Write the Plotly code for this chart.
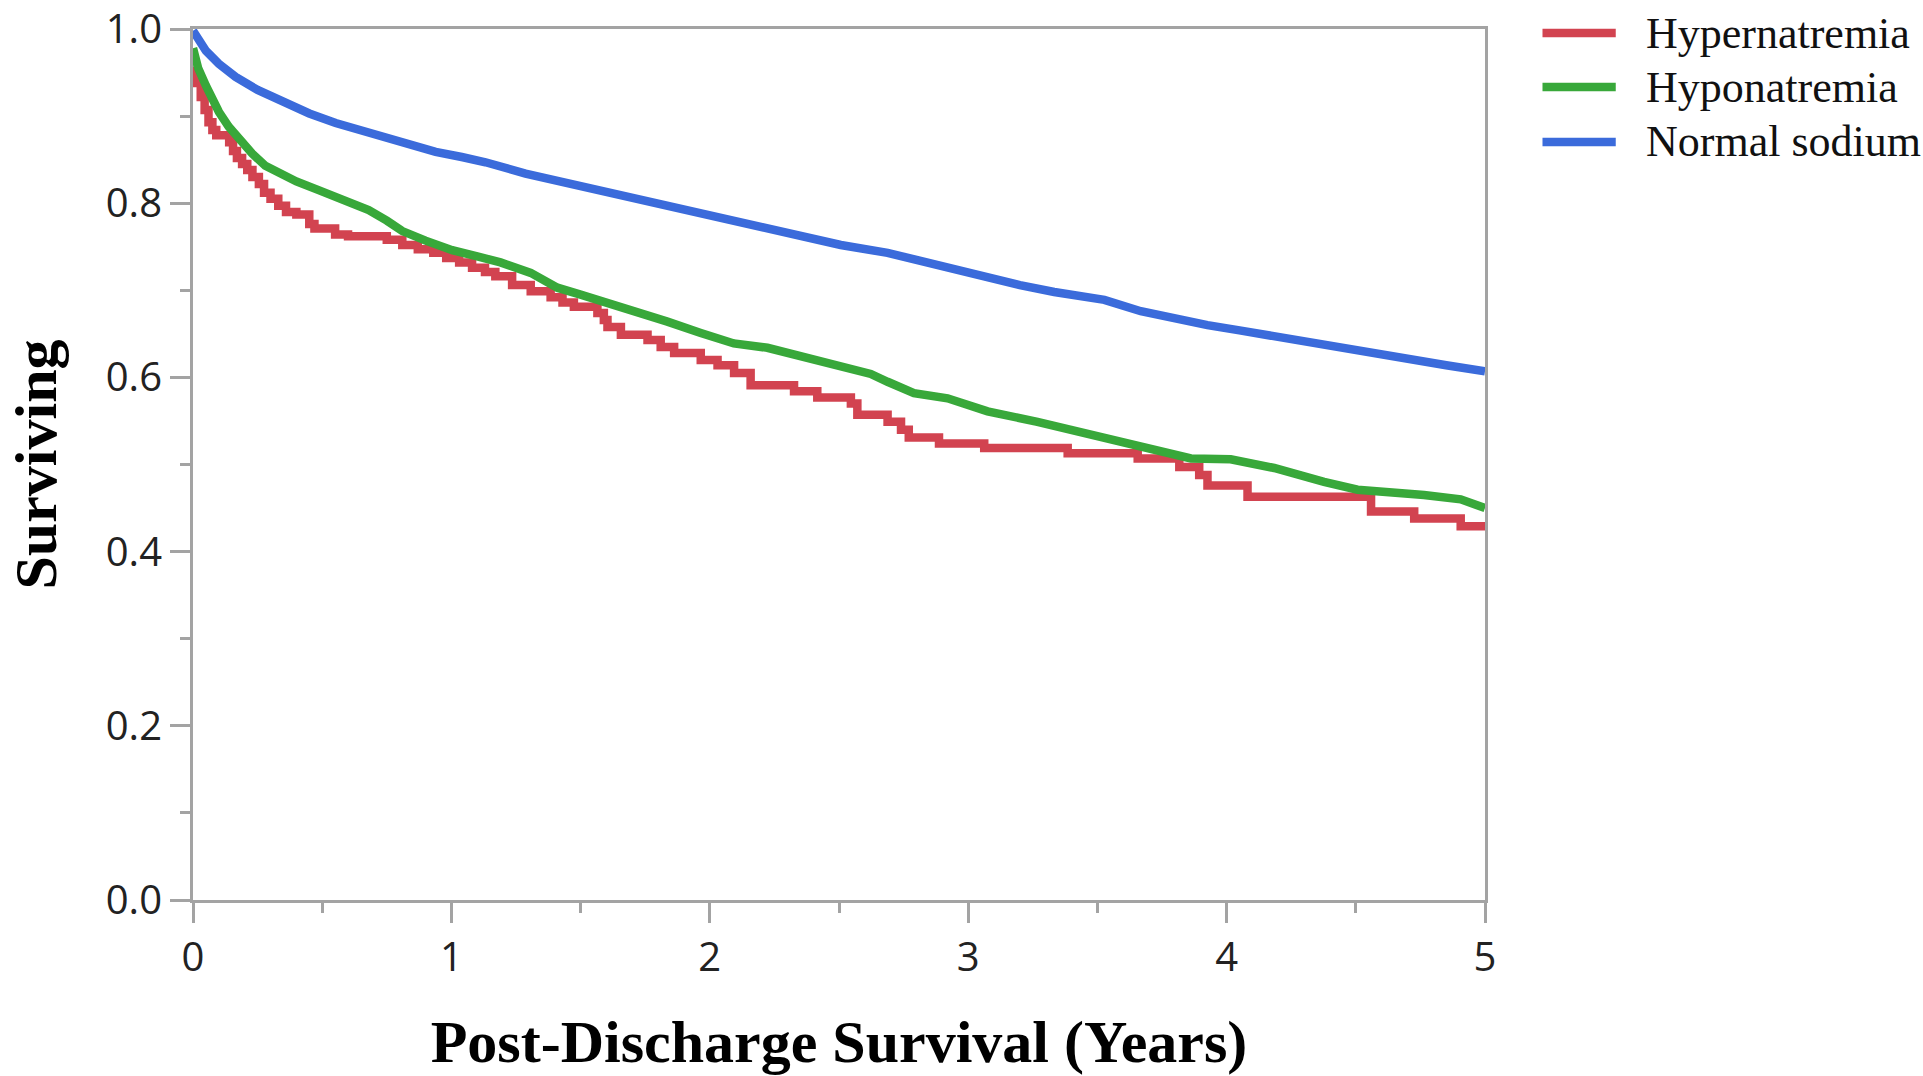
import plotly.graph_objects as go

# ---- data ----
series_names = ["Hypernatremia", "Hyponatremia", "Normal sodium"]
series_colors = ["#d24350", "#38a83a", "#3b6bdb"]

red_t = [0.000, 0.015, 0.030, 0.045, 0.060, 0.075, 0.090, 0.140, 0.155, 0.170,
         0.190, 0.210, 0.230, 0.255, 0.275, 0.300, 0.330, 0.360, 0.400, 0.450,
         0.470, 0.550, 0.600, 0.750, 0.810, 0.870, 0.930, 0.980, 1.030, 1.080,
         1.130, 1.170, 1.235, 1.307, 1.384, 1.430, 1.474, 1.565, 1.590, 1.604,
         1.656, 1.759, 1.810, 1.862, 1.965, 2.030, 2.094, 2.158, 2.326, 2.416,
         2.546, 2.571, 2.688, 2.740, 2.770, 2.887, 3.062, 3.385, 3.656, 3.817,
         3.894, 3.926, 4.081, 4.559, 4.726, 4.906, 5.000]
red_s = [0.952, 0.938, 0.922, 0.907, 0.893, 0.884, 0.878, 0.870, 0.860, 0.852,
         0.845, 0.838, 0.830, 0.822, 0.812, 0.805, 0.797, 0.790, 0.787, 0.776,
         0.771, 0.764, 0.762, 0.758, 0.752, 0.747, 0.743, 0.737, 0.732, 0.726,
         0.721, 0.716, 0.706, 0.699, 0.692, 0.686, 0.681, 0.674, 0.666, 0.658,
         0.649, 0.643, 0.635, 0.628, 0.620, 0.614, 0.605, 0.591, 0.584, 0.577,
         0.570, 0.557, 0.549, 0.540, 0.531, 0.524, 0.519, 0.513, 0.507, 0.497,
         0.488, 0.476, 0.463, 0.446, 0.438, 0.429, 0.429]

green_t = [0, 0.02, 0.05, 0.074, 0.10, 0.138, 0.18, 0.229, 0.28, 0.332,
           0.40, 0.486, 0.58, 0.68, 0.75, 0.81, 0.90, 1.003, 1.10, 1.19,
           1.307, 1.36, 1.41, 1.50, 1.616, 1.70, 1.836, 1.965, 2.093, 2.223,
           2.352, 2.429, 2.507, 2.623, 2.688, 2.79, 2.92, 3.075, 3.268, 3.46,
           3.66, 3.746, 3.862, 4.016, 4.184, 4.377, 4.507, 4.764, 4.906, 5.0]
green_s = [0.978, 0.955, 0.935, 0.918, 0.905, 0.888, 0.872, 0.857, 0.843, 0.834,
           0.825, 0.815, 0.805, 0.792, 0.780, 0.768, 0.757, 0.746, 0.739, 0.732,
           0.720, 0.711, 0.703, 0.695, 0.685, 0.676, 0.664, 0.651, 0.639, 0.634,
           0.624, 0.618, 0.611, 0.604, 0.595, 0.582, 0.576, 0.561, 0.549, 0.536,
           0.523, 0.517, 0.507, 0.506, 0.496, 0.480, 0.471, 0.465, 0.460, 0.450]

blue_t = [0, 0.05, 0.1, 0.165, 0.25, 0.358, 0.45, 0.552, 0.65, 0.745,
          0.84, 0.939, 1.04, 1.132, 1.287, 1.449, 1.55, 1.706, 1.85, 1.965,
          2.1, 2.223, 2.35, 2.507, 2.688, 2.881, 3.075, 3.2, 3.333, 3.527,
          3.668, 3.8, 3.926, 4.05, 4.184, 4.3, 4.442, 4.57, 4.70, 4.85, 5.0]
blue_s = [0.998, 0.975, 0.960, 0.945, 0.930, 0.915, 0.903, 0.892, 0.883, 0.875,
          0.866, 0.859, 0.853, 0.847, 0.834, 0.823, 0.817, 0.807, 0.797, 0.788,
          0.780, 0.771, 0.763, 0.752, 0.743, 0.729, 0.714, 0.706, 0.698, 0.689,
          0.676, 0.667, 0.660, 0.654, 0.647, 0.641, 0.635, 0.629, 0.622, 0.614,
          0.607]

x_tick_vals = [0, 1, 2, 3, 4, 5]
x_tick_text = ["0", "1", "2", "3", "4", "5"]
y_tick_vals = [0.0, 0.2, 0.4, 0.6, 0.8, 1.0]
y_tick_text = ["0.0", "0.2", "0.4", "0.6", "0.8", "1.0"]

x_title = "Post-Discharge Survival (Years)"
y_title = "Surviving"

AXIS_GRAY = "#a3a3a3"
LW = 8.5

fig = go.Figure()
fig.add_trace(go.Scatter(x=red_t, y=red_s, mode="lines", name=series_names[0],
                         line=dict(color=series_colors[0], width=LW, shape="hv"),
                         showlegend=False))
fig.add_trace(go.Scatter(x=green_t, y=green_s, mode="lines", name=series_names[1],
                         line=dict(color=series_colors[1], width=LW),
                         showlegend=False))
fig.add_trace(go.Scatter(x=blue_t, y=blue_s, mode="lines", name=series_names[2],
                         line=dict(color=series_colors[2], width=LW),
                         showlegend=False))

# manual legend (long line samples like the reference)
leg_y = [0.9954, 0.9334, 0.8703]
for name, col, yy in zip(series_names, series_colors, leg_y):
    fig.add_shape(type="line", xref="x domain", yref="y domain",
                  x0=1.0445, x1=1.1012, y0=yy, y1=yy,
                  line=dict(color=col, width=8.5))
    fig.add_annotation(xref="x domain", yref="y domain", x=1.1230, y=yy,
                       text=name, showarrow=False, xanchor="left", yanchor="middle",
                       font=dict(family="Liberation Serif", size=44, color="#111111"))

tickfont = dict(family="Open Sans", size=40, color="#222222")
title_font = dict(family="Liberation Serif", size=60, color="#000000")

fig.update_xaxes(range=[0, 5], tickvals=x_tick_vals, ticktext=x_tick_text,
                 showgrid=False, zeroline=False, showline=True, mirror=True,
                 linecolor=AXIS_GRAY, linewidth=3, automargin=False,
                 ticks="outside", ticklen=20, tickwidth=3, tickcolor=AXIS_GRAY,
                 minor=dict(dtick=0.5, tick0=0, ticks="outside", ticklen=10,
                            tickwidth=3, tickcolor=AXIS_GRAY, showgrid=False),
                 tickfont=tickfont,
                 title=dict(text="<b>" + x_title + "</b>", font=title_font, standoff=38))
fig.update_yaxes(range=[0, 1], tickvals=y_tick_vals, ticktext=y_tick_text,
                 showgrid=False, zeroline=False, showline=True, mirror=True,
                 linecolor=AXIS_GRAY, linewidth=3, automargin=False,
                 ticks="outside", ticklen=20, tickwidth=3, tickcolor=AXIS_GRAY,
                 minor=dict(dtick=0.1, tick0=0, ticks="outside", ticklen=10,
                            tickwidth=3, tickcolor=AXIS_GRAY, showgrid=False),
                 tickfont=tickfont,
                 title=dict(text="<b>" + y_title + "</b>", font=title_font, standoff=30))

fig.update_layout(width=1923, height=1076, autosize=False,
                  margin=dict(l=193, r=438, t=29, b=176, pad=0),
                  plot_bgcolor="white", paper_bgcolor="white",
                  showlegend=False)

fig.write_html("out.html")
